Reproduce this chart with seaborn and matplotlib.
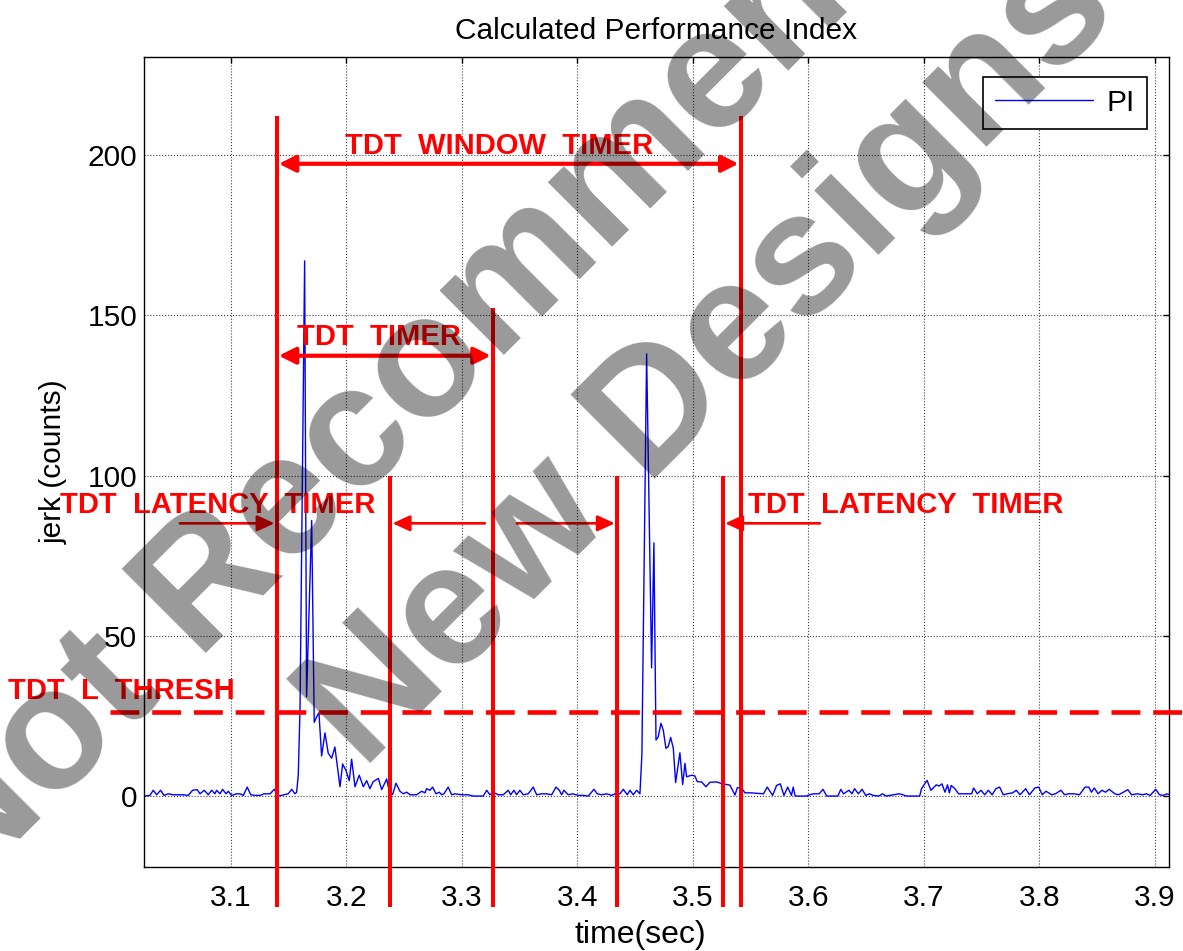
import numpy as np
import pandas as pd
import seaborn as sns
import matplotlib
matplotlib.use('Agg')
import matplotlib.pyplot as plt
from matplotlib.patches import FancyArrowPatch

# PI trace (time in s, jerk in counts)
time_sec = [
    3.0255, 3.0299, 3.0327, 3.0357, 3.0391, 3.0420, 3.0457, 3.0500, 3.0587, 3.0630,
    3.0668, 3.0708, 3.0732, 3.0769, 3.0804, 3.0833, 3.0861, 3.0876, 3.0905, 3.0928,
    3.0957, 3.0977, 3.1006, 3.1049, 3.1078, 3.1107, 3.1141, 3.1171, 3.1208, 3.1251,
    3.1286, 3.1338, 3.1375, 3.1410, 3.1496, 3.1526, 3.1554, 3.1569, 3.1583, 3.1598,
    3.1638, 3.1655, 3.1699, 3.1721, 3.1742, 3.1762, 3.1785, 3.1814, 3.1842, 3.1872,
    3.1900, 3.1944, 3.1967, 3.1996, 3.2024, 3.2045, 3.2074, 3.2111, 3.2146, 3.2175,
    3.2203, 3.2232, 3.2276, 3.2305, 3.2348, 3.2371, 3.2400, 3.2429, 3.2463, 3.2492,
    3.2521, 3.2550, 3.2608, 3.2651, 3.2680, 3.2694, 3.2723, 3.2746, 3.2775, 3.2804,
    3.2824, 3.2844, 3.2881, 3.2911, 3.2939, 3.2997, 3.3055, 3.3098, 3.3185, 3.3214,
    3.3242, 3.3271, 3.3314, 3.3358, 3.3401, 3.3422, 3.3450, 3.3473, 3.3502, 3.3531,
    3.3574, 3.3617, 3.3647, 3.3690, 3.3733, 3.3777, 3.3814, 3.3843, 3.3863, 3.3883,
    3.3920, 3.3958, 3.4007, 3.4050, 3.4094, 3.4143, 3.4172, 3.4210, 3.4253, 3.4296,
    3.4325, 3.4368, 3.4397, 3.4431, 3.4455, 3.4483, 3.4513, 3.4541, 3.4558, 3.4599,
    3.4642, 3.4662, 3.4680, 3.4700, 3.4723, 3.4743, 3.4766, 3.4786, 3.4807, 3.4830,
    3.4850, 3.4887, 3.4911, 3.4931, 3.4945, 3.4989, 3.5017, 3.5037, 3.5075, 3.5113,
    3.5147, 3.5205, 3.5248, 3.5320, 3.5364, 3.5384, 3.5422, 3.5450, 3.5500, 3.5611,
    3.5643, 3.5690, 3.5724, 3.5756, 3.5788, 3.5820, 3.5853, 3.5868, 3.5885, 3.5981,
    3.6020, 3.6046, 3.6093, 3.6126, 3.6158, 3.6255, 3.6280, 3.6303, 3.6351, 3.6377,
    3.6399, 3.6432, 3.6464, 3.6496, 3.6528, 3.6560, 3.6609, 3.6641, 3.6673, 3.6753,
    3.6786, 3.6818, 3.6850, 3.6963, 3.6979, 3.7027, 3.7060, 3.7107, 3.7130, 3.7156,
    3.7182, 3.7204, 3.7220, 3.7236, 3.7268, 3.7300, 3.7413, 3.7430, 3.7462, 3.7494,
    3.7526, 3.7558, 3.7590, 3.7623, 3.7655, 3.7687, 3.7720, 3.7767, 3.7800, 3.7832,
    3.7881, 3.7913, 3.7960, 3.7993, 3.8025, 3.8057, 3.8106, 3.8138, 3.8186, 3.8218,
    3.8251, 3.8299, 3.8347, 3.8395, 3.8427, 3.8450, 3.8475, 3.8508, 3.8540, 3.8572,
    3.8604, 3.8653, 3.8685, 3.8717, 3.8765, 3.8797, 3.8846, 3.8894, 3.8926, 3.8958,
    3.9007, 3.9039, 3.9072, 3.9104, 3.9120,
]
pi_counts = [
    0.0, 0.2, 1.8, 0.4, 1.8, 0.2, 0.7, 0.4, 0.4, 0.2,
    1.8, 2.0, 0.7, 1.8, 0.4, 1.8, 0.7, 1.8, 0.7, 2.1,
    0.7, 1.5, 0.2, 0.7, 0.7, 0.2, 2.8, 0.4, 0.2, 0.2,
    0.7, 0.7, 2.1, 0.0, 0.7, 2.1, 0.7, 1.2, 6.6, 27.0,
    167.0, 31.0, 86.0, 23.0, 24.7, 26.0, 12.5, 19.7, 13.4, 11.8,
    15.3, 2.9, 10.0, 8.0, 4.8, 11.5, 2.9, 6.5, 2.9, 4.8,
    2.3, 4.5, 5.5, 2.0, 5.3, 1.5, 0.5, 4.0, 1.5, 0.7,
    1.2, 0.4, 0.4, 1.5, 1.0, 2.3, 1.8, 2.8, 0.7, 1.2,
    0.4, 0.7, 2.8, 0.4, 0.7, 0.4, 0.4, 0.0, 0.0, 1.8,
    0.4, 1.2, 0.4, 0.4, 1.8, 0.4, 1.8, 0.4, 1.8, 0.4,
    0.7, 2.8, 0.4, 0.7, 0.7, 0.4, 2.8, 1.8, 0.4, 1.8,
    0.4, 0.7, 0.2, 0.2, 0.0, 2.1, 0.7, 0.4, 0.7, 0.2,
    0.7, 0.7, 2.1, 0.4, 1.8, 0.4, 1.8, 0.7, 13.0, 138.0,
    40.0, 79.0, 17.5, 18.5, 22.7, 20.6, 14.9, 15.4, 18.3, 14.9,
    4.2, 13.5, 3.6, 10.2, 6.0, 6.5, 6.3, 4.5, 4.4, 2.9,
    4.3, 4.4, 3.9, 3.4, 0.3, 2.6, 2.5, 1.0, 1.0, 0.7,
    2.8, 0.2, 3.3, 3.8, 0.2, 2.8, 0.2, 2.8, 0.0, 0.0,
    0.5, 0.7, 0.7, 2.1, 0.0, 0.0, 2.1, 0.7, 1.8, 0.7,
    2.3, 0.7, 2.1, 0.2, 0.7, 0.2, 0.0, 0.7, 0.0, 0.5,
    0.7, 0.4, 0.0, 0.0, 2.3, 4.9, 1.8, 3.5, 3.1, 3.8,
    1.2, 3.5, 1.0, 3.3, 2.3, 0.7, 0.7, 2.5, 0.7, 1.8,
    0.4, 1.8, 0.4, 2.3, 2.8, 0.4, 0.7, 1.0, 1.8, 0.4,
    2.3, 0.4, 2.5, 2.8, 0.4, 1.5, 0.4, 0.7, 1.8, 0.4,
    0.7, 0.7, 0.4, 2.8, 2.8, 1.2, 2.5, 0.7, 1.8, 1.2,
    2.1, 0.7, 0.4, 1.0, 2.0, 0.4, 0.7, 0.4, 0.7, 0.2,
    2.1, 0.4, 0.2, 0.7, 0.5,
]

# timer markers drawn on top of the trace
timer_edges = [3.1396, 3.2381, 3.3268, 3.4342, 3.5260, 3.5413]
timer_tops = [212.2, 100.0, 152.2, 100.0, 100.0, 212.2]
line_bottom = -34.6
thresh_level = 26.3

x_ticks = [3.1, 3.2, 3.3, 3.4, 3.5, 3.6, 3.7, 3.8, 3.9]
y_ticks = [0, 50, 100, 150, 200]

sns.set_style('white')
plt.rcParams['font.family'] = ['Liberation Sans', 'DejaVu Sans']
plt.rcParams['text.color'] = 'black'
plt.rcParams['axes.labelcolor'] = 'black'

fig = plt.figure(figsize=(11.83, 9.51), dpi=100)
ax = fig.add_axes([0.1217, 0.0883, 0.8664, 0.8517])

df = pd.DataFrame({'time': time_sec, 'PI': pi_counts})
sns.lineplot(data=df, x='time', y='PI', ax=ax, color='#0000ff', linewidth=1.0,
             label='PI', estimator=None, sort=False)

ax.set_xlim(3.0247, 3.9121)
ax.set_ylim(-22.15, 230.6)
ax.set_xticks(x_ticks)
ax.set_xticklabels([f'{v:.1f}' for v in x_ticks])
ax.set_yticks(y_ticks)
ax.set_yticklabels([str(v) for v in y_ticks])
ax.grid(True, linestyle=':', color='#404040', linewidth=0.8)
ax.set_axisbelow(True)
for sp in ax.spines.values():
    sp.set_color('black')
    sp.set_linewidth(1.0)
ax.tick_params(direction='in', length=4.3, width=1, top=True, right=True,
               labelsize=21.5, colors='black')
ax.tick_params(axis='x', pad=12)
ax.tick_params(axis='y', pad=5)

ax.set_title('Calculated Performance Index', fontsize=21.5, pad=13, color='black')
ax.set_xlabel('time(sec)', fontsize=23)
ax.xaxis.set_label_coords(0.484, -0.066)
ax.set_ylabel('jerk (counts)', fontsize=21.5)
ax.yaxis.set_label_coords(-0.074, 0.5)

leg = ax.legend(loc='upper right', bbox_to_anchor=(1147 / 1183, 1 - 77 / 951),
                bbox_transform=fig.transFigure, fontsize=21.5, frameon=True,
                fancybox=False, edgecolor='black', framealpha=1,
                handlelength=3.3, handletextpad=0.45, borderpad=0.4,
                borderaxespad=0)
leg.get_frame().set_linewidth(1.2)

# vertical timer lines
for x, top in zip(timer_edges, timer_tops):
    ax.plot([x, x], [line_bottom, top], color='red', lw=2.9,
            solid_capstyle='butt', clip_on=False, zorder=4)

# threshold
ax.plot([2.995, 3.95], [thresh_level, thresh_level], color='red', lw=3.3,
        dashes=(6.3, 2.8), clip_on=False, zorder=4)

def arrow(x0, x1, y, style, lw):
    p = FancyArrowPatch((x0, y), (x1, y), arrowstyle=style, mutation_scale=1,
                        color='red', lw=lw, shrinkA=0, shrinkB=0,
                        clip_on=False, zorder=4)
    ax.add_patch(p)

big = '<|-|>,head_length=10,head_width=5'
small = '-|>,head_length=10.5,head_width=4.8'
arrow(timer_edges[0] + 0.0018, timer_edges[5] - 0.0018, 197.3, big, 3.0)
arrow(timer_edges[0] + 0.0018, timer_edges[2] - 0.0018, 137.4, big, 3.0)
arrow(3.0558, timer_edges[0] - 0.0018, 85.1, small, 1.9)
arrow(3.3199, timer_edges[1] + 0.0018, 85.1, small, 1.9)
arrow(3.3476, timer_edges[3] - 0.0018, 85.1, small, 1.9)
arrow(3.6100, timer_edges[4] + 0.0018, 85.1, small, 1.9)

lab = dict(color='red', fontsize=21, fontweight='bold', ha='left',
           va='baseline', zorder=5)
ax.text(3.1987, 200.5, 'TDT  WINDOW  TIMER', **lab)
ax.text(3.1569, 140.7, 'TDT  TIMER', **lab)
ax.text(2.9520, 88.2, 'TDT  LATENCY  TIMER', **lab)
ax.text(3.5476, 88.2, 'TDT  LATENCY  TIMER', **lab)
ax.text(2.9072, 30.2, 'TDT  L  THRESH', **lab)

# watermark
wm = dict(rotation=45, rotation_mode='anchor', ha='center', va='baseline',
          fontsize=124, fontweight='bold', color='black', alpha=0.4, zorder=10)
fig.text(517 / 1183, 1 - 342 / 951, 'Not Recommended', **wm)
fig.text(742 / 1183, 1 - 392 / 951, 'New Designs', **wm)

fig.savefig('out.png', dpi=100)
